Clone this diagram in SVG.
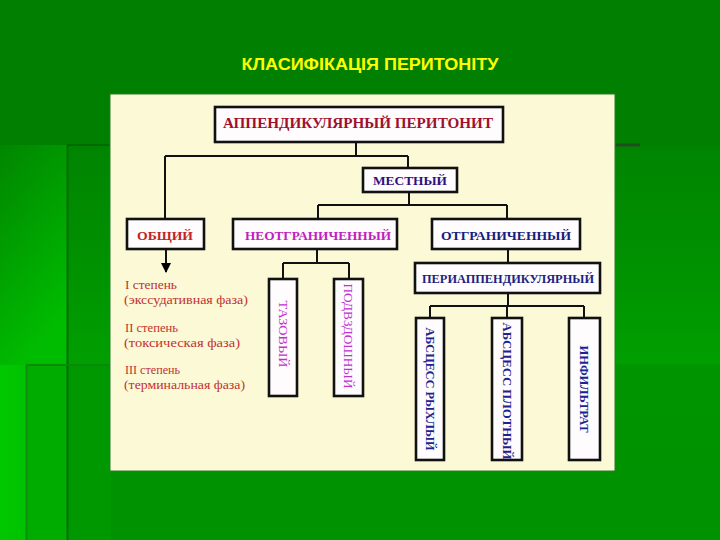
<svg xmlns="http://www.w3.org/2000/svg" width="720" height="540" viewBox="0 0 720 540">
  <defs>
    <linearGradient id="gLow" x1="0" y1="0" x2="0" y2="1">
      <stop offset="0" stop-color="#008400"/>
      <stop offset="0.25" stop-color="#008f00"/>
      <stop offset="0.55" stop-color="#009f00"/>
      <stop offset="0.56" stop-color="#009400"/>
      <stop offset="1" stop-color="#009200"/>
    </linearGradient>
    <linearGradient id="gLeft" x1="0" y1="0" x2="0.35" y2="1">
      <stop offset="0" stop-color="#008600"/>
      <stop offset="1" stop-color="#00bc00"/>
    </linearGradient>
    <linearGradient id="gLeftLow" x1="0" y1="0" x2="1" y2="0">
      <stop offset="0" stop-color="#00c800"/>
      <stop offset="1" stop-color="#00c200"/>
    </linearGradient>
    <marker id="arr" viewBox="0 0 10 10" refX="9" refY="5" markerWidth="5" markerHeight="5" orient="auto" markerUnits="strokeWidth">
      <path d="M0,0 L10,5 L0,10 z" fill="#000"/>
    </marker>
  </defs>
  <style>
    .box { fill: #fefcfc; stroke: #111; stroke-width: 2.6; }
    .con { fill: none; stroke: #111; stroke-width: 2; }
    .t { font-family: "Liberation Serif", "Times New Roman", serif; font-weight: bold; text-anchor: middle; }
    .tv { font-family: "Liberation Serif", "Times New Roman", serif; text-anchor: middle; }
    .lt { font-family: "Liberation Serif", "Times New Roman", serif; font-size: 12px; fill: #c43030; }
  </style>

  <!-- background -->
  <rect x="0" y="0" width="720" height="540" fill="#007f00"/>
  <rect x="0" y="145" width="720" height="395" fill="url(#gLow)"/>
  <rect x="0" y="145" width="67" height="220" fill="url(#gLeft)"/>
  <rect x="26" y="365" width="41" height="175" fill="#00ac00"/>
  <rect x="0" y="365" width="26" height="175" fill="url(#gLeftLow)"/>
  <rect x="67" y="365" width="44" height="175" fill="#009800"/>
  <g fill="none" stroke-width="2">
    <path d="M67.5,145 V540" stroke="#006e00"/>
    <path d="M67,145 H640" stroke="#006a00"/>
    <path d="M615,145 H640" stroke="#1f4f1f" stroke-width="3"/>
    <path d="M26,365 H111" stroke="#0a8a0a"/>
    <path d="M26.5,365 V540" stroke="#0a8f0a"/>
  </g>

  <!-- title -->
  <text x="370" y="70" font-family="'Liberation Sans', Arial, sans-serif" font-size="16" font-weight="bold" fill="#ffff00" text-anchor="middle" textLength="257" lengthAdjust="spacingAndGlyphs">КЛАСИФІКАЦІЯ ПЕРИТОНІТУ</text>

  <!-- panel -->
  <rect x="110" y="94" width="505" height="377" fill="#fbf9d6" stroke="#2a7a2a" stroke-width="1"/>

  <!-- connectors -->
  <g id="connectors" class="con">
    <path d="M356,142 V156 M165,156 H408 M165,156 V219 M408,156 V168"/>
    <path d="M409,192 V205 M318,205 H507 M318,205 V219 M507,205 V219"/>
    <path d="M166,249 V272" marker-end="url(#arr)"/>
    <path d="M317,249 V263 M283,263 H349 M283,263 V279 M349,263 V279"/>
    <path d="M508,249 V263"/>
    <path d="M508,293 V306 M430,306 H584 M430,306 V318 M507,306 V318 M584,306 V318"/>
  </g>

  <!-- nodes -->
  <g id="root">
    <rect class="box" x="215" y="107" width="288" height="35"/>
    <text class="t" x="358" y="128" font-size="14" fill="#a0102c" textLength="270" lengthAdjust="spacingAndGlyphs">АППЕНДИКУЛЯРНЫЙ ПЕРИТОНИТ</text>
  </g>
  <g id="mestnyi">
    <rect class="box" x="363" y="168" width="94" height="24"/>
    <text class="t" x="410" y="185" font-size="13" fill="#2e1080" textLength="74" lengthAdjust="spacingAndGlyphs">МЕСТНЫЙ</text>
  </g>
  <g id="obshchii">
    <rect class="box" x="127" y="219" width="77" height="30"/>
    <text class="t" x="165" y="239.5" font-size="13" fill="#c02424" textLength="56" lengthAdjust="spacingAndGlyphs">ОБЩИЙ</text>
  </g>
  <g id="neotgranichennyi">
    <rect class="box" x="233" y="219" width="164" height="30"/>
    <text class="t" x="318" y="239.5" font-size="13" fill="#c020c0" textLength="146" lengthAdjust="spacingAndGlyphs">НЕОТГРАНИЧЕННЫЙ</text>
  </g>
  <g id="otgranichennyi">
    <rect class="box" x="432" y="219" width="148" height="30"/>
    <text class="t" x="506" y="239.5" font-size="13" fill="#14207e" textLength="130" lengthAdjust="spacingAndGlyphs">ОТГРАНИЧЕННЫЙ</text>
  </g>
  <g id="periappendikulyarnyi">
    <rect class="box" x="415" y="263" width="185" height="30"/>
    <text class="t" x="508" y="283" font-size="13" fill="#1c2282" font-weight="normal" textLength="172" lengthAdjust="spacingAndGlyphs">ПЕРИАППЕНДИКУЛЯРНЫЙ</text>
  </g>

  <g id="obshchii-stages">
    <text class="lt" x="125" y="289" textLength="52" lengthAdjust="spacingAndGlyphs">I степень</text>
    <text class="lt" x="124" y="304" textLength="124" lengthAdjust="spacingAndGlyphs">(экссудативная фаза)</text>
    <text class="lt" x="125" y="332" textLength="53" lengthAdjust="spacingAndGlyphs">II степень</text>
    <text class="lt" x="124" y="347" textLength="116" lengthAdjust="spacingAndGlyphs">(токсическая фаза)</text>
    <text class="lt" x="125" y="374" textLength="55" lengthAdjust="spacingAndGlyphs">III степень</text>
    <text class="lt" x="124" y="389" textLength="121" lengthAdjust="spacingAndGlyphs">(терминальная фаза)</text>
  </g>

  <g id="tazovyi">
    <rect class="box" x="269" y="279" width="28" height="117"/>
    <text class="tv" transform="translate(283,334) rotate(90)" y="4.5" font-size="13" fill="#c030d0" textLength="67" lengthAdjust="spacingAndGlyphs">ТАЗОВЫЙ</text>
  </g>
  <g id="podvzdoshnyi">
    <rect class="box" x="334" y="279" width="29" height="117"/>
    <text class="tv" transform="translate(348.5,336) rotate(90)" y="4.5" font-size="13" fill="#c030d0" textLength="105" lengthAdjust="spacingAndGlyphs">ПОДВЗДОШНЫЙ</text>
  </g>
  <g id="abscess-ryxlyi">
    <rect class="box" x="416" y="318" width="28" height="142"/>
    <text class="t" transform="translate(430,389) rotate(90)" y="4.5" font-size="13" fill="#1c2290" textLength="123" lengthAdjust="spacingAndGlyphs">АБСЦЕСС РЫХЛЫЙ</text>
  </g>
  <g id="abscess-plotnyi">
    <rect class="box" x="492" y="318" width="30" height="142"/>
    <text class="tv" transform="translate(507,391) rotate(90)" y="4.5" font-size="13" fill="#1c2290" font-weight="bold" textLength="137" lengthAdjust="spacingAndGlyphs">АБСЦЕСС ПЛОТНЫЙ</text>
  </g>
  <g id="infiltrat">
    <rect class="box" x="569" y="318" width="31" height="142"/>
    <text class="t" transform="translate(584.5,389) rotate(90)" y="4.5" font-size="13" fill="#1c2290" textLength="87" lengthAdjust="spacingAndGlyphs">ИНФИЛЬТРАТ</text>
  </g>
</svg>
